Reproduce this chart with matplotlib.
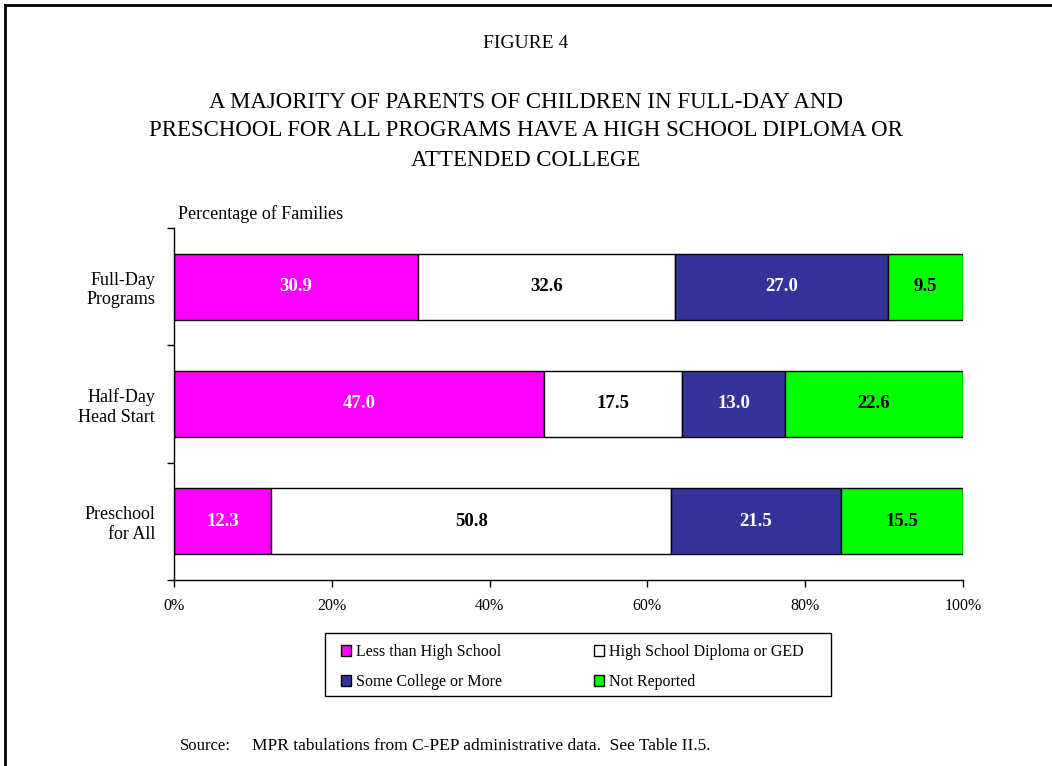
import numpy as np
import matplotlib.pyplot as plt
from matplotlib.lines import Line2D
from matplotlib.patches import Patch, Rectangle

plt.rcParams['font.family'] = ['Liberation Serif', 'DejaVu Serif']

programs = ['Full-Day\nPrograms', 'Half-Day\nHead Start', 'Preschool\nfor All']
series = ['Less than High School', 'High School Diploma or GED',
          'Some College or More', 'Not Reported']
less_hs = [30.9, 47.0, 12.3]
hs_ged = [32.6, 17.5, 50.8]
college = [27.0, 13.0, 21.5]
not_rep = [9.5, 22.6, 15.5]
colors = ['#FF00FF', '#FFFFFF', '#333399', '#00FF00']
txt_colors = ['white', 'black', 'white', 'black']
xticks = [0, 20, 40, 60, 80, 100]

vals = np.array([less_hs, hs_ged, college, not_rep])
pct = vals / vals.sum(axis=0) * 100   # 100% stacked

W, H = 1052, 766
fig = plt.figure(figsize=(W/100, H/100), dpi=100)
ax = fig.add_axes([174/W, 1-580/H, (963-174)/W, (580-228)/H])

y = np.arange(len(programs))
left = np.zeros(len(programs))
for i in range(len(series)):
    bars = ax.barh(y, pct[i], left=left, height=0.56, color=colors[i],
                   edgecolor='black', linewidth=1, label=series[i])
    for j, b in enumerate(bars):
        ax.text(left[j] + pct[i][j]/2, y[j], '%.1f' % vals[i][j],
                ha='center', va='center', fontsize=13.5, fontweight='bold',
                color=txt_colors[i])
    left += pct[i]

ax.set_xlim(0, 100)
ax.set_ylim(2.5, -0.5)
ax.set_xticks(xticks)
ax.set_xticklabels(['%d%%' % t for t in xticks], fontsize=11.5)
ax.set_yticks([-0.5, 0.5, 1.5, 2.5])
ax.set_yticklabels([])
ax.set_yticks(y, minor=True)
ax.set_yticklabels(programs, minor=True, fontsize=13)
ax.tick_params(axis='y', which='minor', length=0, pad=13.5)
ax.tick_params(axis='y', which='major', length=5, width=1, direction='out')
ax.tick_params(axis='x', length=5, width=1, direction='out', pad=8)
for s in ['top', 'right']:
    ax.spines[s].set_visible(False)
ax.spines['left'].set_linewidth(1)
ax.spines['bottom'].set_linewidth(1)

# titles
fig.text(0.5, 1-44/H, 'FIGURE 4', ha='center', va='center', fontsize=14)
title_lines = ['A MAJORITY OF PARENTS OF CHILDREN IN FULL-DAY AND',
               'PRESCHOOL FOR ALL PROGRAMS HAVE A HIGH SCHOOL DIPLOMA OR',
               'ATTENDED COLLEGE']
for k, line in enumerate(title_lines):
    fig.text(0.5, 1-(102 + 29*k)/H, line, ha='center', va='center', fontsize=16.5)
fig.text(178/W, 1-214/H, 'Percentage of Families', ha='left', va='center',
         fontsize=13)

# legend, row-wise order, frame drawn separately
handles = [Patch(facecolor=c, edgecolor='black', linewidth=1) for c in colors]
order = [0, 2, 1, 3]
leg = fig.legend([handles[i] for i in order], [series[i] for i in order],
                 ncol=2, loc='upper left', bbox_to_anchor=(341/W, 1-644/H),
                 fontsize=11.5, frameon=False, handlelength=0.65,
                 handleheight=0.65, handletextpad=0.3, borderpad=0,
                 labelspacing=0.875, columnspacing=5.75, borderaxespad=0)
fig.add_artist(Rectangle((325/W, 1-696/H), (831-325)/W, (696-633)/H,
                         transform=fig.transFigure, fill=False,
                         edgecolor='black', linewidth=1))

fig.text(180/W, 1-746/H, 'Source:', ha='left', va='center', fontsize=12)
fig.text(252/W, 1-746/H, 'MPR tabulations from C-PEP administrative data.  See Table II.5.',
         ha='left', va='center', fontsize=12.5)

# page frame (left and top edges)
fig.add_artist(Line2D([5/W, 5/W], [0, 1-5/H], color='black', lw=2))
fig.add_artist(Line2D([5/W, 1], [1-5/H, 1-5/H], color='black', lw=2))

fig.savefig('out.png', dpi=100)
